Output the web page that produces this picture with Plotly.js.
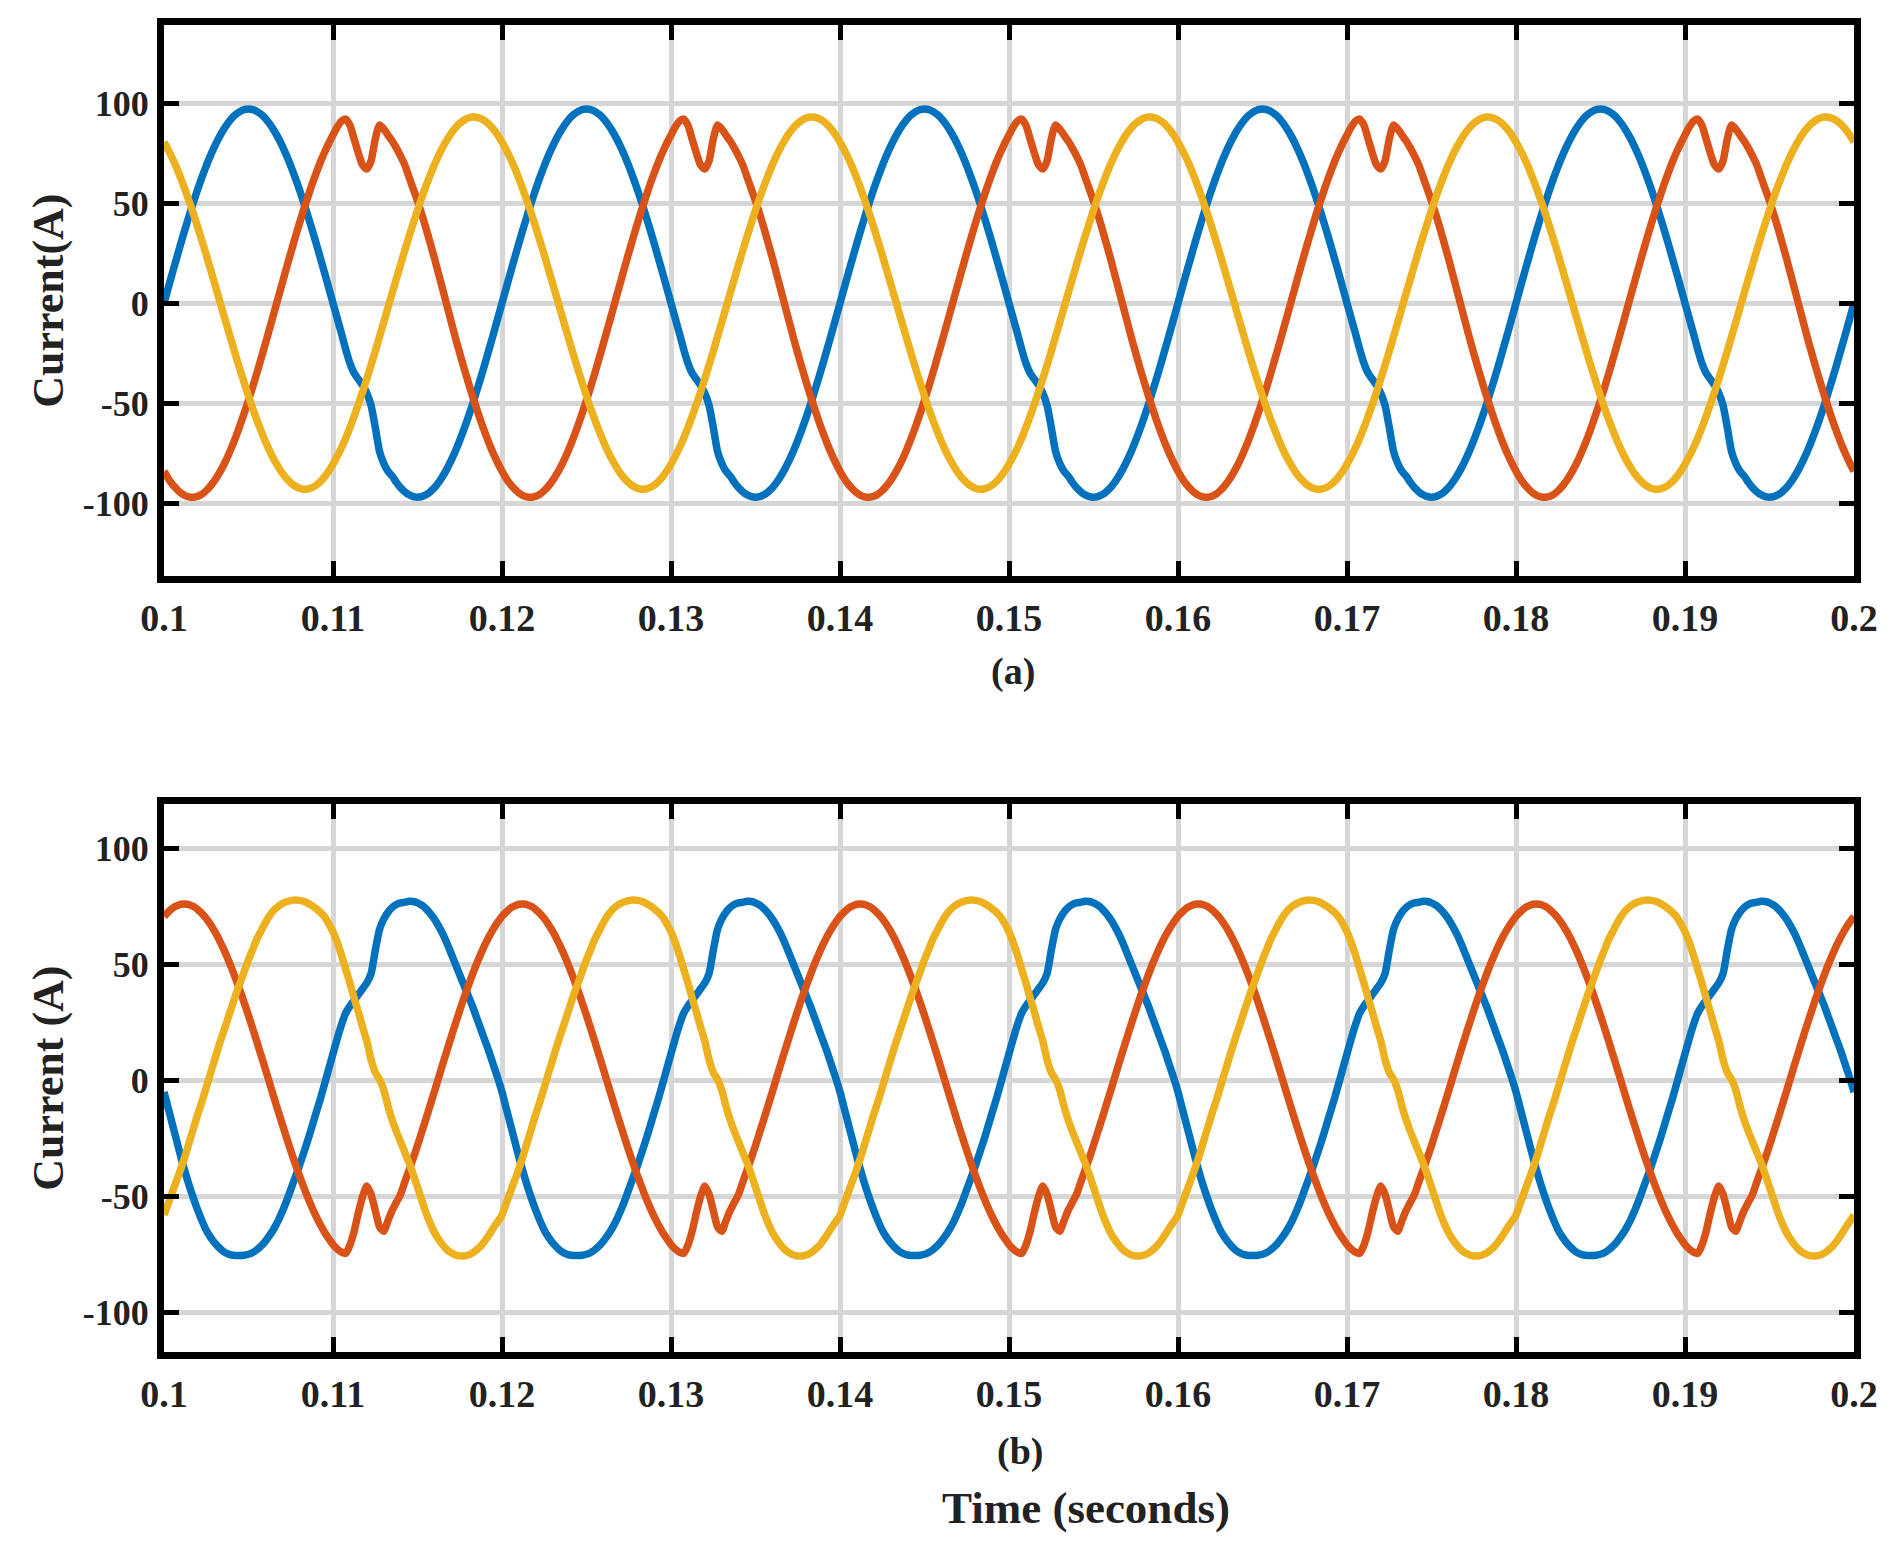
<!DOCTYPE html>
<html>
<head>
<meta charset="utf-8">
<script src="https://cdn.plot.ly/plotly-3.0.1.min.js"></script>
<style>
  html, body { margin: 0; padding: 0; background: #ffffff; }
  #chart { width: 1900px; height: 1556px; }
</style>
</head>
<body>
<div id="chart"></div>
<script>
// ---- sampling of the time axis (seconds) ----
const startTime = 0.1;
const sampleStep = 0.00025;      // 0.25 ms between samples
const samplesPerCycle = 80;      // one 50 Hz cycle = 20 ms
const cycleCount = 5;

// ---- axis ticks ----
const xTickValues = [0.1, 0.11, 0.12, 0.13, 0.14, 0.15, 0.16, 0.17, 0.18, 0.19, 0.2];
const xTickLabels = ["0.1", "0.11", "0.12", "0.13", "0.14", "0.15", "0.16", "0.17", "0.18", "0.19", "0.2"];
const yTickValues = [-100, -50, 0, 50, 100];
const yTickLabels = ["-100", "-50", "0", "50", "100"];

// ---- (a) one cycle of each phase current (A); repeats every 20 ms ----
const topBlueCycle = [
  0, 7.6, 15.2, 22.6, 30.0, 37.1, 44.0, 50.7, 57.0, 63.0, 68.6, 73.8, 78.5, 82.7, 86.4, 89.6, 92.3, 94.3, 95.8, 96.7,
  97, 96.7, 95.8, 94.3, 92.3, 89.6, 86.4, 82.7, 78.5, 73.8, 68.6, 63.0, 57.0, 50.7, 44.0, 37.1, 30.0, 22.6, 15.2, 7.6,
  0, -7.6, -15.2, -23, -30, -35, -38, -41, -45, -51, -62, -74, -80, -84, -86.4, -89.6, -92.3, -94.3, -95.8, -96.7,
  -97, -96.7, -95.8, -94.3, -92.3, -89.6, -86.4, -82.7, -78.5, -73.8, -68.6, -63.0, -57.0, -50.7, -44.0, -37.1, -30.0, -22.6, -15.2, -7.6
];
const topRedCycle = [
  -84.0, -87.6, -90.6, -93.0, -94.9, -96.2, -96.9, -97.0, -96.5, -95.4, -93.7, -91.4, -88.6, -85.2, -81.4, -77.0, -72.1, -66.8, -61.0, -54.9,
  -48.5, -41.8, -34.8, -27.5, -20.2, -12.7, -5.1, 2.5, 10.1, 17.7, 25.1, 32.4, 39.5, 46.3, 52.8, 59.1, 64.9, 70.4, 75.4, 79.9,
  84, 88, 91, 92, 89, 82, 75, 69, 67, 71, 82, 89, 87, 84, 81, 77.5, 73.5, 69, 63, 57,
  51, 44.5, 37.5, 30, 22.5, 14.5, 6.5, -1.5, -9.5, -17.5, -25.1, -32.4, -39.5, -46.3, -52.8, -59.1, -64.9, -70.4, -75.4, -79.9
];
const topYellowCycle = [
  80.5, 76.6, 72.3, 67.5, 62.2, 56.6, 50.6, 44.4, 37.8, 31.0, 24.1, 16.9, 9.7, 2.4, -4.9, -12.1, -19.3, -26.4, -33.3, -40.0,
  -46.5, -52.7, -58.5, -64.0, -69.1, -73.8, -78.0, -81.7, -85.0, -87.7, -89.8, -91.4, -92.5, -93.0, -92.9, -92.2, -91.0, -89.2, -86.8, -83.9,
  -80.5, -76.6, -72.3, -67.5, -62.2, -56.6, -50.6, -44.4, -37.8, -31.0, -24.1, -16.9, -9.7, -2.4, 4.9, 12.1, 19.3, 26.4, 33.3, 40.0,
  46.5, 52.7, 58.5, 64.0, 69.1, 73.8, 78.0, 81.7, 85.0, 87.7, 89.8, 91.4, 92.5, 93.0, 92.9, 92.2, 91.0, 89.2, 86.8, 83.9
];

// ---- (b) one cycle of each phase current (A) ----
const bottomBlueCycle = [
  -5, -12, -19, -26, -33, -39.5, -45.5, -51, -56, -60.5, -64.5, -67.5, -70, -72, -73.6, -74.6, -75.2, -75.4, -75.4, -75.3,
  -74.9, -74.1, -72.9, -71.3, -69.2, -66.8, -63.9, -60.5, -56.5, -52, -47, -42, -37, -31.5, -26, -20, -14, -8, -1.5, 5,
  11.5, 18, 24, 29, 32, 34.5, 37, 39.5, 42, 46, 56, 65, 69.5, 72.5, 74.5, 75.8, 76.5, 76.8, 77.2, 77.1,
  76.5, 75.5, 74, 72, 69.5, 66.5, 63, 59, 54.5, 50, 45.5, 41, 36.5, 32, 27, 22, 17, 12, 6.5, 1
];
const bottomRedCycle = [
  70.7, 72.6, 74.2, 75.2, 75.9, 76, 75.7, 74.9, 73.6, 71.9, 69.8, 67.2, 64.2, 60.8, 57.0, 52.9, 48.4, 43.7, 38.7, 33.4,
  28.0, 22.3, 16.6, 10.7, 4.8, -1.2, -7.2, -13.1, -18.9, -24.6, -30.2, -35.6, -40.7, -45.6, -50.3, -54.6, -58.6, -62.2, -65.4, -68.2,
  -70.7, -72.6, -74.0, -74.5, -71, -65, -57, -50, -45.5, -49, -56, -63, -65, -60.5, -56, -52.5, -49, -43.7, -38.7, -33.4,
  -28.0, -22.3, -16.6, -10.7, -4.8, 1.2, 7.2, 13.1, 18.9, 24.6, 30.2, 35.6, 40.7, 45.6, 50.3, 54.6, 58.6, 62.2, 65.4, 68.2
];
const bottomYellowCycle = [
  -58, -53, -48, -43, -38, -32.5, -26.5, -20.5, -14.5, -9, -3, 3, 9, 15, 20.5, 26, 31.5, 37, 42, 47,
  52, 56.5, 61, 64.5, 68, 71, 73.3, 75, 76.2, 77, 77.5, 77.7, 77.6, 77.2, 76.4, 75.3, 74, 72.5, 70.5, 67.5,
  64, 59.5, 54, 48, 42, 35.5, 29.5, 23, 17, 9, 3.5, 0.5, -4, -11, -17, -22, -26.5, -31, -35.5, -40.5,
  -46, -51.5, -57, -61.5, -65.5, -68.5, -71, -73, -74.3, -75.2, -75.6, -75.6, -75.2, -74.4, -73, -71.3, -69, -66.3, -63.5, -60.8
];

const seriesNames = ["Phase a", "Phase b", "Phase c"];
const seriesColors = ["#0072BD", "#D95319", "#EDB120"];

// ---- build the sampled series (the same recorded cycle repeats every 20 ms) ----
const totalSamples = samplesPerCycle * cycleCount + 1;
const timeSeconds = [];
for (let i = 0; i < totalSamples; i++) timeSeconds.push(+(startTime + i * sampleStep).toFixed(6));
function tile(cycle) {
  const out = [];
  for (let i = 0; i < totalSamples; i++) out.push(cycle[i % samplesPerCycle]);
  return out;
}

const topCycles = [topBlueCycle, topRedCycle, topYellowCycle];
const bottomCycles = [bottomBlueCycle, bottomRedCycle, bottomYellowCycle];
const traces = [];
topCycles.forEach((c, i) => traces.push({
  x: timeSeconds, y: tile(c), type: "scatter", mode: "lines", name: seriesNames[i],
  xaxis: "x", yaxis: "y", showlegend: false,
  line: { color: seriesColors[i], width: 7.5, shape: "spline", smoothing: 0.6 }
}));
bottomCycles.forEach((c, i) => traces.push({
  x: timeSeconds, y: tile(c), type: "scatter", mode: "lines", name: seriesNames[i],
  xaxis: "x2", yaxis: "y2", showlegend: false,
  line: { color: seriesColors[i], width: 7.5, shape: "spline", smoothing: 0.6 }
}));

const serif = "Liberation Serif, Times New Roman, serif";
function xAxis(anchor) {
  return {
    anchor: anchor, domain: [0, 1], range: [0.1, 0.2],
    tickmode: "array", tickvals: xTickValues, ticktext: xTickLabels,
    ticks: "inside", ticklen: 15, tickwidth: 5, tickcolor: "#000",
    showline: true, linecolor: "#000", linewidth: 7, mirror: "allticks",
    showgrid: true, gridcolor: "#d6d6d6", gridwidth: 5, zeroline: false,
    tickfont: { family: serif, size: 38, color: "#222", weight: "bold" },
    ticklabelstandoff: 2
  };
}
function yAxis(anchor, domain, range, title) {
  return {
    anchor: anchor, domain: domain, range: range,
    tickmode: "array", tickvals: yTickValues, ticktext: yTickLabels,
    ticks: "inside", ticklen: 15, tickwidth: 5, tickcolor: "#000",
    showline: true, linecolor: "#000", linewidth: 7, mirror: "allticks",
    showgrid: true, gridcolor: "#d6d6d6", gridwidth: 5, zeroline: false,
    tickfont: { family: serif, size: 36, color: "#222", weight: "bold" },
    ticklabelstandoff: 1,
    title: { text: title, font: { family: serif, size: 44, color: "#222", weight: "bold" }, standoff: 8 }
  };
}

const layout = {
  width: 1900, height: 1556,
  margin: { l: 164, r: 46, t: 24.6, b: 203.8 },
  paper_bgcolor: "#ffffff", plot_bgcolor: "#ffffff",
  showlegend: false,
  xaxis: xAxis("y"),
  yaxis: yAxis("x", [0.58459, 1], [-136.5, 139], "Current(A)"),
  xaxis2: xAxis("y2"),
  yaxis2: yAxis("x2", [0, 0.41277], [-117, 119], "Current (A)"),
  annotations: [
    { text: "(a)", xref: "paper", yref: "paper", x: 0.5024, y: 0.5131, xanchor: "center", yanchor: "middle",
      showarrow: false, font: { family: serif, size: 38, color: "#222", weight: "bold" } },
    { text: "(b)", xref: "paper", yref: "paper", x: 0.5065, y: -0.0752, xanchor: "center", yanchor: "middle",
      showarrow: false, font: { family: serif, size: 38, color: "#222", weight: "bold" } },
    { text: "Time (seconds)", xref: "paper", yref: "paper", x: 0.5456, y: -0.1174, xanchor: "center", yanchor: "middle",
      showarrow: false, font: { family: serif, size: 45, color: "#222", weight: "bold" } }
  ]
};

Plotly.newPlot("chart", traces, layout, { staticPlot: true, displayModeBar: false });
</script>
</body>
</html>
